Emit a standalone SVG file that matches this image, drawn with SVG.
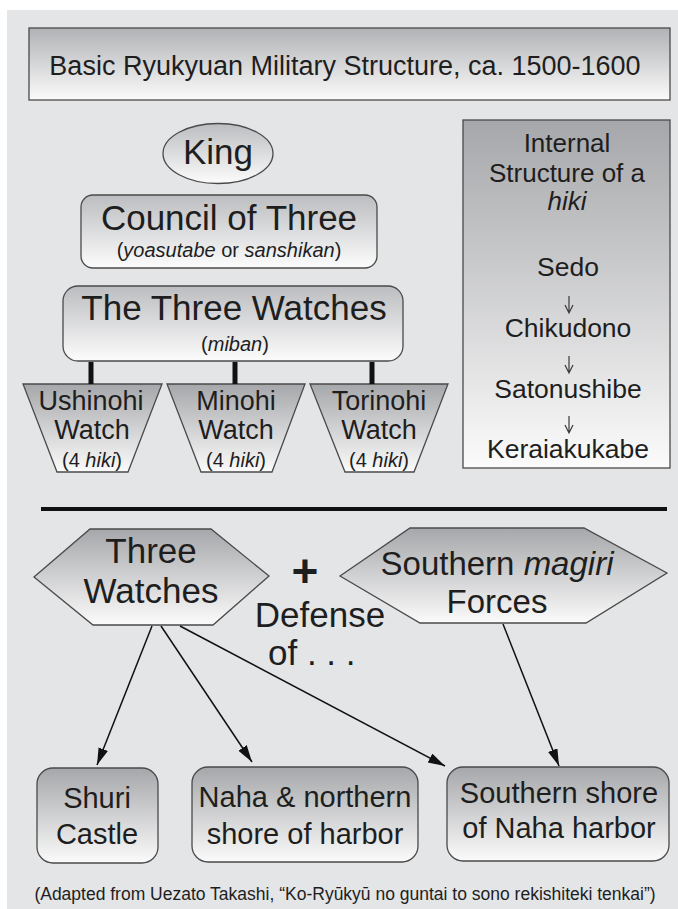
<svg xmlns="http://www.w3.org/2000/svg" width="678" height="909" viewBox="0 0 678 909">
<defs>
<linearGradient id="gTitle" x1="0" y1="0" x2="0" y2="1"><stop offset="0" stop-color="#b1b2b5"/><stop offset="1" stop-color="#fbfbfb"/></linearGradient>
<linearGradient id="gLight" x1="0" y1="0" x2="0" y2="1"><stop offset="0" stop-color="#bcbdc0"/><stop offset="1" stop-color="#fcfcfc"/></linearGradient>
<linearGradient id="gDark" x1="0" y1="0" x2="0" y2="1"><stop offset="0" stop-color="#a6a7aa"/><stop offset="1" stop-color="#fbfbfb"/></linearGradient>
<marker id="arr" markerUnits="userSpaceOnUse" markerWidth="18" markerHeight="12" refX="17" refY="5" orient="auto"><path d="M0,0 L17,5 L0,10 Z" fill="#111"/></marker>
<style>
text{font-family:"Liberation Sans",Arial,sans-serif;fill:#1e1e1e;text-anchor:middle}
.box{stroke:#4a4a4a;stroke-width:1.3}
.it{font-style:italic}
.con{stroke:#111;stroke-width:1.5;fill:none}
.bar{stroke:#111;stroke-width:5}
.small{stroke:#3a3a3a;stroke-width:1.2;fill:none}
</style>
</defs>
<rect x="0" y="0" width="678" height="909" fill="#ffffff"/>
<rect x="7" y="10" width="671" height="899" fill="#e4e5e7"/>

<g id="title">
<rect class="box" x="29" y="28" width="641" height="72" fill="url(#gTitle)"/>
<text x="345" y="75" font-size="27">Basic Ryukyuan Military Structure, ca. 1500-1600</text>
</g>

<g id="king">
<ellipse class="box" cx="218" cy="153.5" rx="55" ry="30" fill="url(#gLight)"/>
<text x="218" y="164" font-size="35">King</text>
</g>

<g id="council">
<rect class="box" x="81" y="195" width="296" height="73" rx="12" fill="url(#gLight)"/>
<text x="229" y="230" font-size="35">Council of Three</text>
<text x="229" y="257" font-size="20">(<tspan class="it">yoasutabe</tspan> or <tspan class="it">sanshikan</tspan>)</text>
</g>

<g id="three-watches">
<rect class="box" x="63" y="286" width="340" height="75" rx="15" fill="url(#gLight)"/>
<text x="234" y="320" font-size="35">The Three Watches</text>
<text x="235" y="351" font-size="20">(<tspan class="it">miban</tspan>)</text>
</g>

<g id="ushinohi">
<polygon class="box" points="23,384 162,384 128,472 57,472" fill="url(#gDark)"/>
<text x="91" y="410" font-size="27">Ushinohi</text>
<text x="92" y="439" font-size="27">Watch</text>
<text x="92" y="467" font-size="20">(4 <tspan class="it">hiki</tspan>)</text>
</g>
<g id="minohi">
<polygon class="box" points="167,384 305,384 272,472 201,472" fill="url(#gDark)"/>
<text x="236" y="410" font-size="27">Minohi</text>
<text x="236" y="439" font-size="27">Watch</text>
<text x="236" y="467" font-size="20">(4 <tspan class="it">hiki</tspan>)</text>
</g>
<g id="torinohi">
<polygon class="box" points="310,384 448,384 414,472 345,472" fill="url(#gDark)"/>
<text x="379" y="410" font-size="27">Torinohi</text>
<text x="379" y="439" font-size="27">Watch</text>
<text x="379" y="467" font-size="20">(4 <tspan class="it">hiki</tspan>)</text>
</g>

<g id="internal-structure">
<rect class="box" x="463" y="120" width="207" height="348" fill="url(#gDark)"/>
<text x="567" y="152" font-size="26">Internal</text>
<text x="567" y="182" font-size="26">Structure of a</text>
<text x="567" y="210" font-size="26" class="it">hiki</text>
<text x="568" y="276" font-size="26.5">Sedo</text>
<text x="568" y="337" font-size="26.5">Chikudono</text>
<text x="568" y="398" font-size="26.5">Satonushibe</text>
<text x="568" y="458" font-size="26.5">Keraiakukabe</text>
</g>

<g id="hex-three-watches">
<polygon class="box" points="34,577 90,529 211,529 269,576 213,625 93,625" fill="url(#gDark)"/>
<text x="151" y="563" font-size="35">Three</text>
<text x="151" y="603" font-size="35">Watches</text>
</g>

<g id="plus-defense">
<text x="305" y="587" font-size="46" font-weight="bold">+</text>
<text x="320" y="627" font-size="35">Defense</text>
<text x="268" y="665" font-size="35" style="text-anchor:start">of . . .</text>
</g>

<g id="hex-magiri">
<polygon class="box" points="340,576 410,528 584,528 667,573 586,623 420,623" fill="url(#gDark)"/>
<text x="497" y="575" font-size="33">Southern <tspan class="it">magiri</tspan></text>
<text x="497" y="613" font-size="33">Forces</text>
</g>

<g id="shuri">
<rect class="box" x="37" y="768" width="121" height="95" rx="16" fill="url(#gDark)"/>
<text x="97" y="808" font-size="29">Shuri</text>
<text x="97" y="844" font-size="29">Castle</text>
</g>
<g id="naha-north">
<rect class="box" x="192" y="767" width="226" height="95" rx="16" fill="url(#gDark)"/>
<text x="305" y="807" font-size="29">Naha &amp; northern</text>
<text x="305" y="844" font-size="29">shore of harbor</text>
</g>
<g id="naha-south">
<rect class="box" x="447" y="767" width="222" height="94" rx="16" fill="url(#gDark)"/>
<text x="559" y="803" font-size="29">Southern shore</text>
<text x="559" y="838" font-size="29">of Naha harbor</text>
</g>

<g id="footer">
<text x="345" y="900" font-size="17.5">(Adapted from Uezato Takashi, “Ko-Ryūkyū no guntai to sono rekishiteki tenkai”)</text>
</g>

<g id="connectors">
<line class="bar" x1="91" y1="362" x2="91" y2="384"/>
<line class="bar" x1="235" y1="362" x2="235" y2="384"/>
<line class="bar" x1="372" y1="362" x2="372" y2="384"/>
<line x1="41" y1="509" x2="667" y2="509" stroke="#111" stroke-width="4"/>
<line class="con" x1="152" y1="626" x2="97" y2="765" marker-end="url(#arr)"/>
<line class="con" x1="161" y1="626" x2="252" y2="762" marker-end="url(#arr)"/>
<line class="con" x1="180" y1="626" x2="445" y2="766" marker-end="url(#arr)"/>
<line class="con" x1="503" y1="624" x2="559" y2="766" marker-end="url(#arr)"/>
<path class="small" d="M569,296 V312 M565,305 L569,313 L573,305"/>
<path class="small" d="M569,356 V372 M565,365 L569,373 L573,365"/>
<path class="small" d="M569,416 V432 M565,425 L569,433 L573,425"/>
</g>
</svg>
